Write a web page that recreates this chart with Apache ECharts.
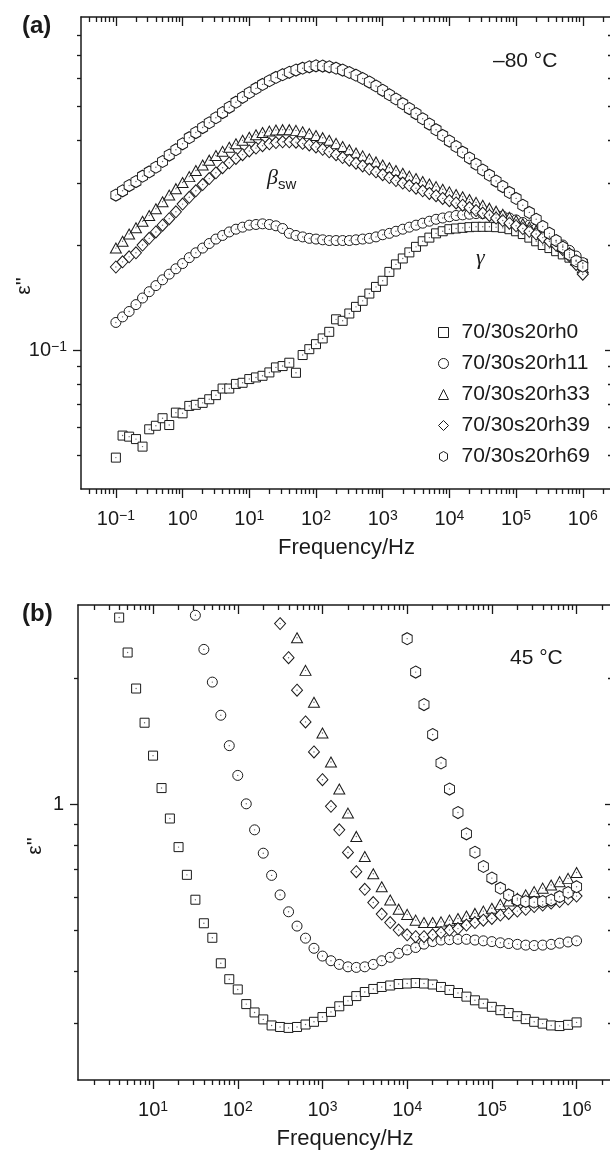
<!DOCTYPE html>
<html>
<head>
<meta charset="utf-8">
<title>Dielectric loss vs frequency</title>
<script src="https://cdn.jsdelivr.net/npm/echarts@6/dist/echarts.min.js"></script>
<style>
  html, body { margin: 0; padding: 0; background: #fff; }
  #chart { width: 610px; height: 1155px; }
</style>
</head>
<body>
<div id="chart"></div>
<script>
// measurement frequencies (Hz), 10 points per decade
const freqHz = [
  0.1, 0.126, 0.158, 0.2, 0.251, 0.316, 0.398, 0.501, 0.631, 0.794,
  1, 1.26, 1.58, 2, 2.51, 3.16, 3.98, 5.01, 6.31, 7.94,
  10, 12.6, 15.8, 20, 25.1, 31.6, 39.8, 50.1, 63.1, 79.4,
  100, 126, 158, 200, 251, 316, 398, 501, 631, 794,
  1000, 1260, 1580, 2000, 2510, 3160, 3980, 5010, 6310, 7940,
  10000, 12600, 15800, 20000, 25100, 31600, 39800, 50100, 63100, 79400,
  100000, 126000, 158000, 200000, 251000, 316000, 398000, 501000, 631000, 794000,
  1000000
];

const names = ['70/30s20rh0', '70/30s20rh11', '70/30s20rh33', '70/30s20rh39', '70/30s20rh69'];

// (a) -80 °C, one value per frequency
const aRh0 = [
  0.0492, 0.0569, 0.0565, 0.0556, 0.0529, 0.0593, 0.0607, 0.0638, 0.061, 0.0662,
  0.0659, 0.0692, 0.0697, 0.0706, 0.0723, 0.0743, 0.0776, 0.0776, 0.080, 0.0806,
  0.0826, 0.0835, 0.0844, 0.0863, 0.0892, 0.090, 0.092, 0.0861, 0.0968, 0.1006,
  0.104, 0.108, 0.1128, 0.1225, 0.1213, 0.1273, 0.133, 0.1384, 0.1452, 0.1517,
  0.158, 0.1675, 0.176, 0.183, 0.1905, 0.1976, 0.205, 0.21, 0.216, 0.219,
  0.222, 0.223, 0.224, 0.225, 0.2255, 0.2255, 0.2255, 0.225, 0.224, 0.222,
  0.219, 0.215, 0.21, 0.205, 0.2, 0.196, 0.192, 0.188, 0.184, 0.18,
  0.177
];
const aRh11 = [
  0.12, 0.1245, 0.129, 0.135, 0.141, 0.147, 0.153, 0.159, 0.165, 0.171,
  0.177, 0.184, 0.19, 0.196, 0.202, 0.208, 0.213, 0.218, 0.222, 0.225,
  0.228, 0.229, 0.23, 0.229, 0.227, 0.223, 0.216, 0.213, 0.211, 0.209,
  0.208, 0.207, 0.206, 0.206, 0.206, 0.206, 0.207, 0.208, 0.209, 0.211,
  0.214, 0.216, 0.219, 0.222, 0.225, 0.228, 0.231, 0.234, 0.237, 0.239,
  0.241, 0.243, 0.244, 0.245, 0.246, 0.246, 0.245, 0.244, 0.242, 0.239,
  0.236, 0.232, 0.228, 0.223, 0.218, 0.212, 0.206, 0.2, 0.193, 0.186,
  0.178
];
const aRh33 = [
  0.196, 0.205, 0.215, 0.224, 0.234, 0.243, 0.254, 0.266, 0.278, 0.29,
  0.302, 0.314, 0.327, 0.339, 0.35, 0.361, 0.371, 0.381, 0.39, 0.399,
  0.407, 0.414, 0.42, 0.424, 0.427, 0.428, 0.428, 0.426, 0.422, 0.417,
  0.412, 0.406, 0.399, 0.391, 0.383, 0.375, 0.367, 0.36, 0.353, 0.346,
  0.339, 0.333, 0.327, 0.321, 0.315, 0.31, 0.304, 0.299, 0.294, 0.289,
  0.284, 0.279, 0.275, 0.27, 0.265, 0.26, 0.255, 0.25, 0.245, 0.24,
  0.235, 0.23, 0.225, 0.22, 0.215, 0.21, 0.204, 0.198, 0.19, 0.181,
  0.172
];
const aRh39 = [
  0.173, 0.179, 0.185, 0.19, 0.2, 0.209, 0.218, 0.228, 0.238, 0.249,
  0.262, 0.274, 0.286, 0.298, 0.31, 0.322, 0.333, 0.344, 0.354, 0.363,
  0.372, 0.379, 0.385, 0.39, 0.393, 0.395, 0.395, 0.394, 0.391, 0.387,
  0.382, 0.376, 0.37, 0.363, 0.356, 0.35, 0.343, 0.337, 0.33, 0.324,
  0.318, 0.312, 0.306, 0.301, 0.296, 0.291, 0.286, 0.281, 0.277, 0.272,
  0.268, 0.264, 0.26, 0.256, 0.251, 0.247, 0.243, 0.239, 0.235, 0.231,
  0.227, 0.223, 0.219, 0.215, 0.21, 0.205, 0.2, 0.194, 0.186, 0.176,
  0.165
];
const aRh69 = [
  0.278, 0.286, 0.296, 0.304, 0.315, 0.324, 0.334, 0.347, 0.362, 0.375,
  0.39, 0.406, 0.42, 0.434, 0.448, 0.463, 0.479, 0.496, 0.513, 0.53,
  0.546, 0.562, 0.577, 0.591, 0.604, 0.615, 0.625, 0.634, 0.642, 0.648,
  0.652, 0.651, 0.648, 0.642, 0.634, 0.624, 0.613, 0.6, 0.586, 0.571,
  0.555, 0.539, 0.524, 0.508, 0.492, 0.476, 0.46, 0.444, 0.428, 0.412,
  0.397, 0.383, 0.369, 0.355, 0.341, 0.328, 0.317, 0.305, 0.294, 0.283,
  0.272, 0.26, 0.248, 0.237, 0.226, 0.216, 0.206, 0.197, 0.188, 0.18,
  0.174
];

// (b) 45 °C, only the points inside the frame; bStart = index of first frequency
const bStart = [16, 25, 37, 35, 50];
const bRh0 = [
  2.80, 2.31, 1.895, 1.57,
  1.31, 1.096, 0.927, 0.792, 0.68, 0.593, 0.521, 0.481, 0.418, 0.383,
  0.362, 0.334, 0.319, 0.307, 0.297, 0.2945, 0.293, 0.2945, 0.2985, 0.303,
  0.311, 0.32, 0.33, 0.34, 0.349, 0.357, 0.363, 0.367, 0.37, 0.373,
  0.374, 0.375, 0.374, 0.372, 0.367, 0.361, 0.355, 0.348, 0.341, 0.335,
  0.329, 0.323, 0.318, 0.3125, 0.3075, 0.303, 0.3, 0.297, 0.296, 0.298,
  0.302
];
const bRh11 = [
  2.835, 2.35, 1.963, 1.636, 1.384,
  1.175, 1.005, 0.871, 0.766, 0.678, 0.609, 0.555, 0.513, 0.48, 0.454,
  0.435, 0.424, 0.4155, 0.41, 0.4087, 0.41, 0.4155, 0.424, 0.432, 0.4415,
  0.45, 0.456, 0.4645, 0.471, 0.475, 0.476, 0.477, 0.477, 0.475, 0.473,
  0.471, 0.468, 0.466, 0.464, 0.462, 0.461, 0.462, 0.464, 0.467, 0.47,
  0.473
];
const bRh33 = [
  2.506, 2.094, 1.757,
  1.484, 1.265, 1.09, 0.955, 0.84, 0.752, 0.684, 0.637, 0.592, 0.563,
  0.547, 0.53, 0.523, 0.523, 0.525, 0.53, 0.535, 0.542, 0.55, 0.557,
  0.566, 0.578, 0.589, 0.598, 0.609, 0.62, 0.632, 0.643, 0.655, 0.667,
  0.689
];
const bRh39 = [
  2.708, 2.245, 1.878, 1.577, 1.337,
  1.148, 0.991, 0.871, 0.769, 0.692, 0.628, 0.584, 0.548, 0.523, 0.502,
  0.489, 0.484, 0.484, 0.489, 0.495, 0.502, 0.506, 0.516, 0.523, 0.53,
  0.535, 0.545, 0.55, 0.557, 0.5625, 0.571, 0.576, 0.582, 0.587, 0.595,
  0.605
];
const bRh69 = [
  2.493, 2.074, 1.735, 1.471, 1.258, 1.09, 0.958, 0.852, 0.77, 0.712,
  0.668, 0.632, 0.609, 0.592, 0.587, 0.585, 0.587, 0.592, 0.603, 0.617,
  0.637
];

const aSets = [aRh0, aRh11, aRh33, aRh39, aRh69];
const bSets = [bRh0, bRh11, bRh33, bRh39, bRh69];

// axis ranges and labelled ticks
const aFreqRange = [0.03, 2.74e6];
const aEpsRange = [0.04, 0.9];
const bFreqRange = [1.3, 2.62e6];
const bEpsRange = [0.22, 3];
const aFreqTicks = [0.1, 1, 10, 100, 1000, 10000, 100000, 1000000];
const bFreqTicks = [10, 100, 1000, 10000, 100000, 1000000];
const aEpsTicks = [0.1];
const bEpsTicks = [1];

const FONT = '"Liberation Sans", Arial, sans-serif';
const ink = '#1a1a1a';
const hexPath = 'path://M4 0L8 2.3L8 7.7L4 10L0 7.7L0 2.3Z';
const marks = [
  { symbol: 'rect', size: 9 },
  { symbol: 'circle', size: 10 },
  { symbol: 'triangle', size: [11, 10] },
  { symbol: 'diamond', size: [11, 12] },
  { symbol: hexPath, size: [10, 12] }
];

function minorsIn(range) {
  const out = [];
  for (let e = -3; e <= 7; e++) {
    for (let m = 2; m <= 9; m++) {
      const v = +(m * Math.pow(10, e)).toPrecision(6);
      if (v > range[0] * 1.0001 && v < range[1] * 0.9999) out.push(v);
    }
  }
  return out;
}

function powLabel(v) {
  const e = Math.round(Math.log10(v));
  if (Math.abs(Math.log10(v) - e) > 1e-6) return '';
  return '{n|10}{s|' + (e < 0 ? '\u2212' + (-e) : e) + '}';
}

const rich = {
  n: { fontSize: 20, fontFamily: FONT, color: ink },
  s: { fontSize: 14, fontFamily: FONT, color: ink, verticalAlign: 'top' }
};
const lineOn = { show: true, lineStyle: { color: ink, width: 1.5 } };
const tickLine = { color: ink, width: 1.3 };

function xAxes(grid, range, majors) {
  const minors = minorsIn(range);
  const base = { type: 'log', gridIndex: grid, min: range[0], max: range[1],
    splitLine: { show: false }, axisLine: { show: false }, axisLabel: { show: false } };
  return [
    Object.assign({}, base, {
      position: 'bottom', axisLine: lineOn,
      axisTick: { length: 9, lineStyle: tickLine, customValues: majors },
      axisLabel: { show: true, customValues: majors, formatter: powLabel, margin: 20, rich: rich },
      name: 'Frequency/Hz', nameLocation: 'middle', nameGap: 48,
      nameTextStyle: { fontSize: 22, fontFamily: FONT, color: ink }
    }),
    Object.assign({}, base, { position: 'bottom',
      axisTick: { length: 5, lineStyle: tickLine, customValues: minors } }),
    Object.assign({}, base, { position: 'top', axisLine: lineOn,
      axisTick: { inside: true, length: 9, lineStyle: tickLine, customValues: majors } }),
    Object.assign({}, base, { position: 'top',
      axisTick: { inside: true, length: 5, lineStyle: tickLine, customValues: minors } })
  ];
}

function yAxes(grid, range, majors, fmt) {
  const minors = minorsIn(range);
  const base = { type: 'log', gridIndex: grid, min: range[0], max: range[1],
    splitLine: { show: false }, axisLine: { show: false }, axisLabel: { show: false } };
  return [
    Object.assign({}, base, {
      position: 'left', axisLine: lineOn,
      axisTick: { length: 8, lineStyle: tickLine, customValues: majors },
      axisLabel: { show: true, customValues: majors, formatter: fmt, margin: 14, rich: rich,
        fontSize: 20, fontFamily: FONT, color: ink }
    }),
    Object.assign({}, base, { position: 'left',
      axisTick: { length: 4, lineStyle: tickLine, customValues: minors } }),
    Object.assign({}, base, { position: 'right', axisLine: lineOn,
      axisTick: { inside: true, length: 7, lineStyle: tickLine, customValues: majors } }),
    Object.assign({}, base, { position: 'right',
      axisTick: { inside: true, length: 4, lineStyle: tickLine, customValues: minors } })
  ];
}

function pointsA(vals) {
  return vals.map((v, i) => [freqHz[i], v]);
}
function pointsB(vals, start) {
  return vals.map((v, i) => [freqHz[start + i], v]);
}

const series = [];
function addSet(name, data, axisIdx, k) {
  series.push({
    name: name, type: 'scatter', xAxisIndex: axisIdx, yAxisIndex: axisIdx,
    data: data, symbol: marks[k].symbol, symbolSize: marks[k].size,
    itemStyle: { color: '#fff', borderColor: ink, borderWidth: 1, opacity: 1 },
    emphasis: { disabled: true }, silent: true
  });
}
function addDots(data, axisIdx) {
  series.push({
    name: 'dot', type: 'scatter', xAxisIndex: axisIdx, yAxisIndex: axisIdx,
    data: data, symbol: 'circle', symbolSize: 1.4, z: 3,
    itemStyle: { color: '#666', opacity: 1 }, emphasis: { disabled: true }, silent: true
  });
}
aSets.forEach((vals, k) => { addSet(names[k], pointsA(vals), 0, k); });
aSets.forEach((vals) => { addDots(pointsA(vals), 0); });
bSets.forEach((vals, k) => { addSet(names[k], pointsB(vals, bStart[k]), 4, k); });
bSets.forEach((vals, k) => { addDots(pointsB(vals, bStart[k]), 4); });

function epsLabelA(v) { return Math.abs(v - 0.1) < 1e-9 ? '{n|10}{s|\u22121}' : ''; }
function epsLabelB(v) { return Math.abs(v - 1) < 1e-9 ? '{n|1}' : ''; }

const chart = echarts.init(document.getElementById('chart'), null, { renderer: 'canvas' });
chart.setOption({
  backgroundColor: '#fff',
  animation: false,
  textStyle: { fontFamily: FONT },
  grid: [
    { left: 81, top: 17, width: 531, height: 472, containLabel: false, outerBoundsMode: 'none' },
    { left: 78, top: 605, width: 534, height: 475, containLabel: false, outerBoundsMode: 'none' }
  ],
  xAxis: xAxes(0, aFreqRange, aFreqTicks).concat(xAxes(1, bFreqRange, bFreqTicks)),
  yAxis: yAxes(0, aEpsRange, aEpsTicks, epsLabelA).concat(yAxes(1, bEpsRange, bEpsTicks, epsLabelB)),
  legend: {
    data: names, orient: 'vertical', left: 433, top: 317,
    itemWidth: 10, itemHeight: 10, itemGap: 10, selectedMode: false,
    textStyle: { fontSize: 21, fontFamily: FONT, color: ink, padding: [0, 0, 0, 8] },
    itemStyle: { color: '#fff', borderColor: ink, borderWidth: 1 }
  },
  graphic: [
    { type: 'text', x: 22, y: 14, style: { text: '(a)', font: 'bold 24px ' + FONT, fill: ink } },
    { type: 'text', x: 22, y: 602, style: { text: '(b)', font: 'bold 24px ' + FONT, fill: ink } },
    { type: 'text', x: 493, y: 51, style: { text: '\u201380 \u00b0C', font: '21px ' + FONT, fill: ink } },
    { type: 'text', x: 510, y: 648, style: { text: '45 \u00b0C', font: '21px ' + FONT, fill: ink } },
    { type: 'text', x: 267, y: 167, style: { text: '\u03b2', font: 'italic 22px "Liberation Serif", serif', fill: ink } },
    { type: 'text', x: 278, y: 177, style: { text: 'sw', font: '15px ' + FONT, fill: ink } },
    { type: 'text', x: 476, y: 247, style: { text: '\u03b3', font: 'italic 22px "Liberation Serif", serif', fill: ink } },
    { type: 'text', x: 24, y: 286, rotation: Math.PI / 2,
      style: { text: "\u03b5''", font: '21px ' + FONT, fill: ink, align: 'center', verticalAlign: 'middle' } },
    { type: 'text', x: 35, y: 846, rotation: Math.PI / 2,
      style: { text: "\u03b5''", font: '21px ' + FONT, fill: ink, align: 'center', verticalAlign: 'middle' } }
  ],
  series: series
});
</script>
</body>
</html>
